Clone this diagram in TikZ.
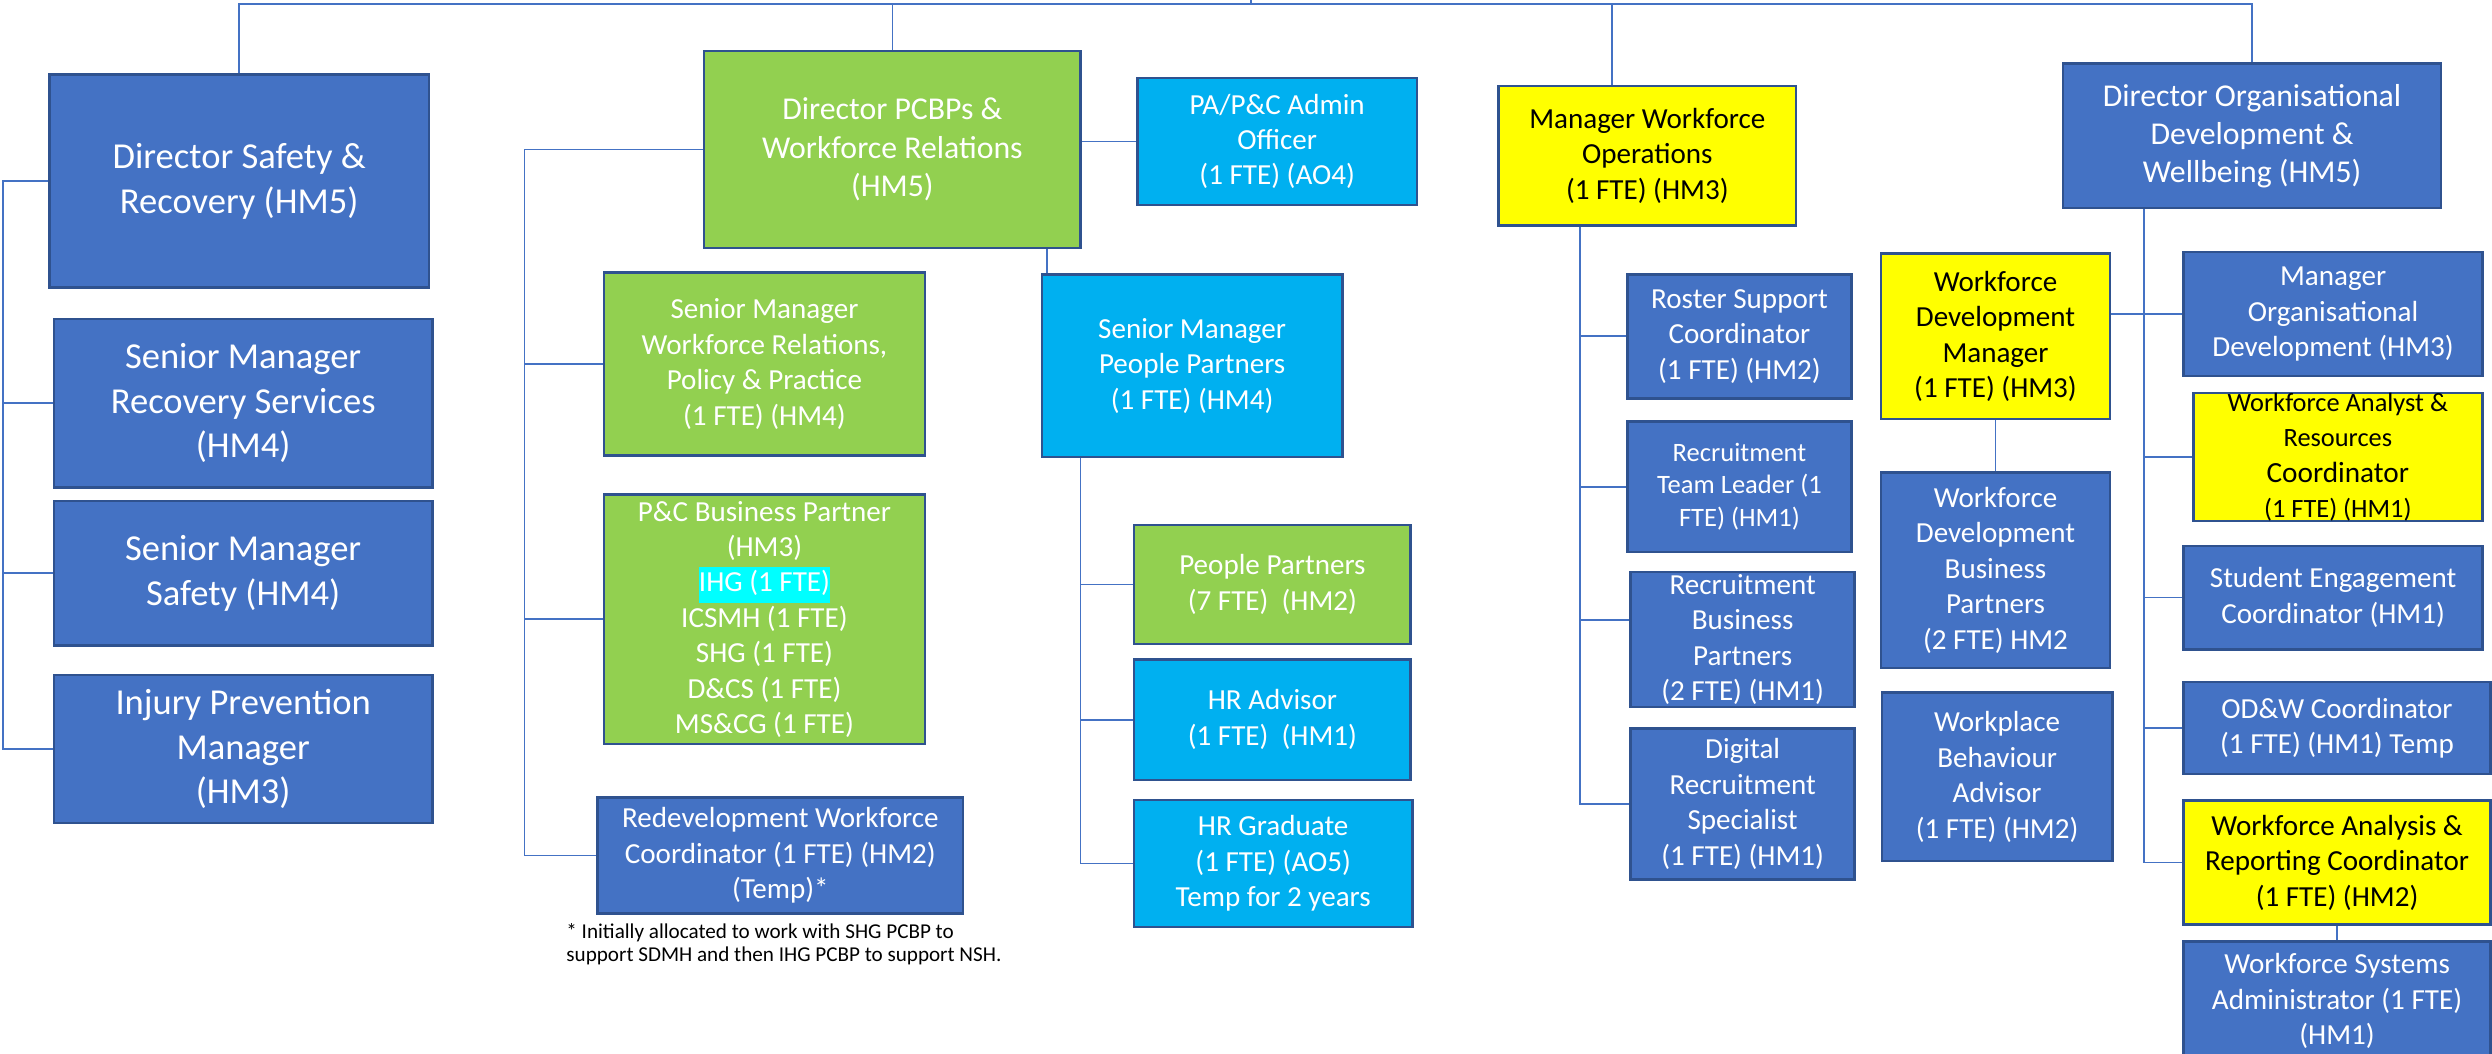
\documentclass[tikz,border=0pt]{standalone}
\usepackage{fontspec}
\setmainfont{Carlito}
\usepackage{tikz}
\usetikzlibrary{positioning}
\definecolor{odblue}{HTML}{4472C4}
\definecolor{pcgreen}{HTML}{92D050}
\definecolor{ppblue}{HTML}{00B0F0}
\definecolor{wfyellow}{HTML}{FFFF00}
\definecolor{rimblue}{HTML}{2F528F}
\definecolor{linkblue}{HTML}{4472C4}
\definecolor{hlcyan}{HTML}{00FFFF}
\setlength{\fboxsep}{0pt}

\begin{document}
\begin{tikzpicture}[x=1pt, y=-1pt,
    box/.style={rectangle, draw=rimblue, line width=1.6pt, inner sep=0pt,
      align=center, text=white, font=\fontsize{18.3}{22.3}\selectfont},
    bluebox/.style={box, fill=odblue}, greenbox/.style={box, fill=pcgreen},
    skybox/.style={box, fill=ppblue}, yellowbox/.style={box, fill=wfyellow, text=black},
    dims/.style 2 args={minimum width=#1pt, minimum height=#2pt},
    bigtext/.style={font=\fontsize{23}{28.2}\selectfont},
    headtext/.style={font=\fontsize{20}{24}\selectfont},
    note/.style={align=left, inner sep=0pt, text=black, font=\fontsize{13.3}{15}\selectfont},
    link/.style={draw=linkblue, line width=1.1pt}, ]
    \useasboundingbox (0,0) rectangle (1568,663);
    % Nodes
    \node[bluebox, bigtext, dims={239}{134}] (dsr) at (150.5,114) {Director Safety \&\\Recovery (HM5)};
    \node[bluebox, bigtext, dims={238}{106}, below=18pt of dsr, xshift=2.5pt] (smrs) {Senior Manager\\Recovery Services\\(HM4)};
    \node[bluebox, bigtext, dims={238}{91}, below=7pt of smrs] (sms) {Senior Manager\\Safety (HM4)};
    \node[bluebox, bigtext, dims={238}{93}, below=17pt of sms] (ipm) {Injury Prevention\\Manager\\(HM3)};

    \node[greenbox, headtext, dims={237}{124}] (dpcbp) at (561.5,94) {Director PCBPs \&\\Workforce Relations\\(HM5)};
    \node[greenbox, dims={202}{115}, below=14pt of dpcbp, xshift=-80.5pt] (smwr) {Senior Manager\\Workforce Relations,\\Policy \& Practice\\(1 FTE) (HM4)};
    \node[greenbox, dims={202}{157}, below=23pt of smwr] (pcbp) {P\&C Business Partner\\(HM3)\\\colorbox{hlcyan}{\strut IHG (1 FTE)}\\ICSMH (1 FTE)\\SHG (1 FTE)\\D\&CS (1 FTE)\\MS\&CG (1 FTE)};
    \node[bluebox, dims={230}{73}, below=32pt of pcbp, xshift=10pt] (redev) {Redevelopment Workforce\\Coordinator (1 FTE) (HM2)\\(Temp)*};
    \node[note, below right=5pt and -19pt of redev.south west] (fnote) {* Initially allocated to work with SHG PCBP to\\support SDMH and then IHG PCBP to support NSH.};
    \node[skybox, dims={176}{80}, right=34pt of dpcbp, yshift=5pt] (pa) {PA/P\&C Admin\\Officer\\(1 FTE) (AO4)};
    \node[skybox, dims={189}{115}, below right=15pt and -26pt of dpcbp.south east] (smpp) {Senior Manager\\People Partners\\(1 FTE) (HM4)};
    \node[greenbox, dims={174}{75}, below right=41pt and 58pt of smpp.south west] (pp) {People Partners\\(7 FTE)\ \ (HM2)};
    \node[skybox, dims={174}{76}, below=8pt of pp] (hra) {HR Advisor\\(1 FTE)\ \ (HM1)};
    \node[skybox, dims={175}{80}, below=11pt of hra, xshift=0.5pt] (hrg) {HR Graduate\\(1 FTE) (AO5)\\Temp for 2 years};

    \node[yellowbox, dims={187}{88}] (mwo) at (1036.5,98) {Manager Workforce\\Operations\\(1 FTE) (HM3)};
    \node[bluebox, dims={141}{78}, below right=29pt and 81pt of mwo.south west] (roster) {Roster Support\\Coordinator\\(1 FTE) (HM2)};
    \node[bluebox, dims={141}{82}, below=13pt of roster, font=\fontsize{16.7}{20.4}\selectfont] (rtl) {Recruitment\\Team Leader (1\\FTE) (HM1)};
    \node[bluebox, dims={141}{85}, below=11pt of rtl, xshift=2pt] (rbp) {Recruitment\\Business\\Partners\\(2 FTE) (HM1)};
    \node[bluebox, dims={141}{95}, below=12pt of rbp] (drs) {Digital\\Recruitment\\Specialist\\(1 FTE) (HM1)};
    \node[yellowbox, dims={144}{104}, right=17pt of roster] (wdm) {Workforce\\Development\\Manager\\(1 FTE) (HM3)};
    \node[bluebox, dims={144}{123}, below=32pt of wdm] (wdbp) {Workforce\\Development\\Business\\Partners\\(2 FTE) HM2};
    \node[bluebox, dims={145}{106}, below=14pt of wdbp, xshift=1pt] (wba) {Workplace\\Behaviour\\Advisor\\(1 FTE) (HM2)};

    \node[bluebox, headtext, dims={238}{91}] (dod) at (1417,85.5) {Director Organisational\\Development \&\\Wellbeing (HM5)};
    \node[bluebox, dims={188}{78}, below right=26pt and 76pt of dod.south west] (mod) {Manager\\Organisational\\Development (HM3)};
    \node[yellowbox, dims={182}{78}, below=9pt of mod, xshift=3pt] (warc) {\fontsize{16.6}{20.2}\selectfont Workforce Analyst \&\\\fontsize{16.6}{20.2}\selectfont Resources\\\fontsize{18.4}{22.4}\selectfont Coordinator\\\fontsize{16.6}{20.2}\selectfont (1 FTE) (HM1)};
    \node[bluebox, dims={188}{65}, below=14pt of warc, xshift=-3pt] (sec) {Student Engagement\\Coordinator (HM1)};
    \node[bluebox, dims={193}{58}, below=19pt of sec, xshift=2.5pt] (odw) {OD\&W Coordinator\\(1 FTE) (HM1) Temp};
    \node[yellowbox, dims={193}{78}, below=15pt of odw] (warep) {Workforce Analysis \&\\Reporting Coordinator\\(1 FTE) (HM2)};
    \node[bluebox, dims={193}{75}, below=9pt of warep] (wsa) {Workforce Systems\\Administrator (1 FTE)\\(HM1)};
    % Lines
    \coordinate (topbar) at (787,2.5);
    \draw[link] (dsr.north) |- (topbar) -| (dod.north);
    \draw[link] (topbar) -- ++(0,-3);
    \draw[link] (dpcbp.north) -- (dpcbp.north |- topbar);
    \coordinate (mwoin) at ([xshift=-22pt]mwo.north);
    \draw[link] (mwoin) -- (mwoin |- topbar);

    \coordinate (spineA) at (2,0);
    \draw[link] (dsr.west) -| (spineA |- ipm.west) -- (ipm.west);
    \foreach \n in {smrs, sms} \draw[link] (spineA |- \n.west) -- (\n.west);

    \coordinate (spineB) at (330,0);
    \draw[link] (dpcbp.west) -| (spineB |- redev.west) -- (redev.west);
    \foreach \n in {smwr, pcbp} \draw[link] (spineB |- \n.west) -- (\n.west);
    \draw[link] (pa.west -| dpcbp.east) -- (pa.west);
    \coordinate (smppin) at ([xshift=4pt]smpp.north west);
    \draw[link] (smppin) -- (smppin |- dpcbp.south);
    \coordinate (spineC) at ([xshift=25pt]smpp.south west);
    \draw[link] (spineC) |- (hrg.west);
    \foreach \n in {pp, hra} \draw[link] (spineC |- \n.west) -- (\n.west);

    \coordinate (spineD) at ([xshift=52pt]mwo.south west);
    \coordinate (rbpin) at ([yshift=12pt]rbp.west);
    \draw[link] (spineD) |- (drs.west);
    \foreach \n in {roster.west, rtl.west, rbpin} \draw[link] (spineD |- \n) -- (\n);
    \draw[link] (wdm.south) -- (wdbp.north);
    \draw[link] (mod.west -| wdm.east) -- (mod.west);

    \coordinate (spineE) at ([xshift=52pt]dod.south west);
    \draw[link] (spineE) |- (warep.west);
    \foreach \n in {warc, sec, odw} \draw[link] (spineE |- \n.west) -- (\n.west);
    \draw[link] (warep.south) -- (wsa.north);
\end{tikzpicture}
\end{document}
